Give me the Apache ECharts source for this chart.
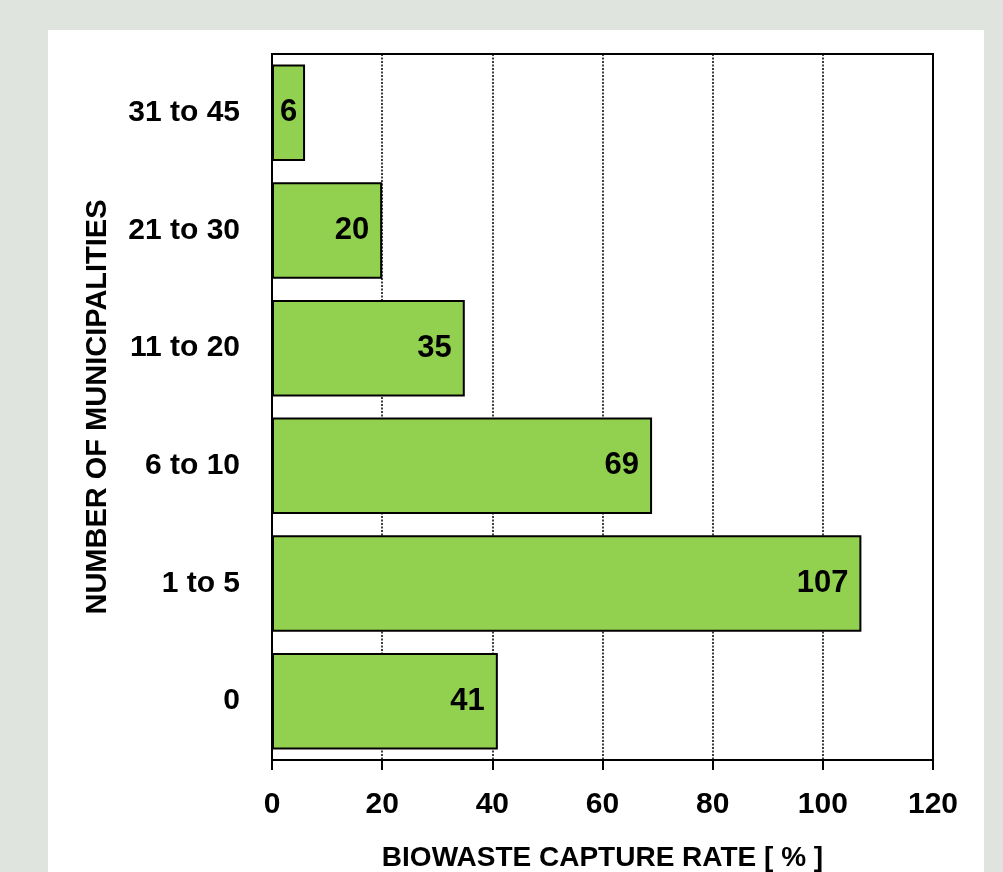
<!DOCTYPE html>
<html>
<head>
<meta charset="utf-8">
<script src="https://cdn.jsdelivr.net/npm/echarts@6/dist/echarts.min.js"></script>
<style>
  html, body { margin: 0; padding: 0; width: 1003px; height: 872px; overflow: hidden; background: #dfe4df; }
  #panel { position: absolute; left: 48px; top: 30px; width: 936px; height: 842px; background: #ffffff; }
  #chart { position: absolute; left: 0; top: 0; width: 1003px; height: 872px; }
</style>
</head>
<body>
<div id="panel"></div>
<div id="chart"></div>
<script>
const categories = ['0', '1 to 5', '6 to 10', '11 to 20', '21 to 30', '31 to 45'];
const values = [41, 107, 69, 35, 20, 6];
const xTicks = [0, 20, 40, 60, 80, 100, 120];

const FONT = '"Liberation Sans", Arial, sans-serif';
const chart = echarts.init(document.getElementById('chart'), null, { renderer: 'canvas' });

const barData = values.map(function (v) {
  if (v < 10) {
    return { value: v, label: { position: 'inside' } };
  }
  return v;
});

chart.setOption({
  backgroundColor: 'transparent',
  animation: false,
  grid: {
    left: 272, right: 70, top: 54, bottom: 112,
    containLabel: false,
    outerBoundsMode: 'none',
    show: true, borderColor: '#000', borderWidth: 2, backgroundColor: 'transparent'
  },
  xAxis: {
    type: 'value',
    min: xTicks[0],
    max: xTicks[xTicks.length - 1],
    interval: 20,
    name: 'BIOWASTE CAPTURE RATE [ % ]',
    nameLocation: 'middle',
    nameGap: 84,
    nameTextStyle: { fontFamily: FONT, fontWeight: 'bold', fontSize: 28, color: '#000' },
    axisLine: { show: true, lineStyle: { color: '#000', width: 2 } },
    axisTick: { show: true, length: 10, lineStyle: { color: '#000', width: 2 } },
    axisLabel: { margin: 30, fontFamily: FONT, fontWeight: 'bold', fontSize: 30, color: '#000' },
    splitLine: { show: true, lineStyle: { color: '#000', width: 1.5, type: [2, 1.5] } }
  },
  yAxis: {
    type: 'category',
    data: categories,
    name: 'NUMBER OF MUNICIPALITIES',
    nameLocation: 'middle',
    nameGap: 160,
    nameRotate: 90,
    nameTextStyle: { fontFamily: FONT, fontWeight: 'bold', fontSize: 29, color: '#000' },
    axisLine: { show: true, lineStyle: { color: '#000', width: 2 } },
    axisTick: { show: false },
    axisLabel: { margin: 32, fontFamily: FONT, fontWeight: 'bold', fontSize: 30, color: '#000' },
    splitLine: { show: false }
  },
  series: [{
    type: 'bar',
    data: barData,
    barCategoryGap: '18%',
    itemStyle: { color: '#92d050', borderColor: '#000', borderWidth: 2 },
    label: {
      show: true, position: 'insideRight', distance: 13,
      fontFamily: FONT, fontWeight: 'bold', fontSize: 31, color: '#000'
    }
  }]
});
</script>
</body>
</html>
